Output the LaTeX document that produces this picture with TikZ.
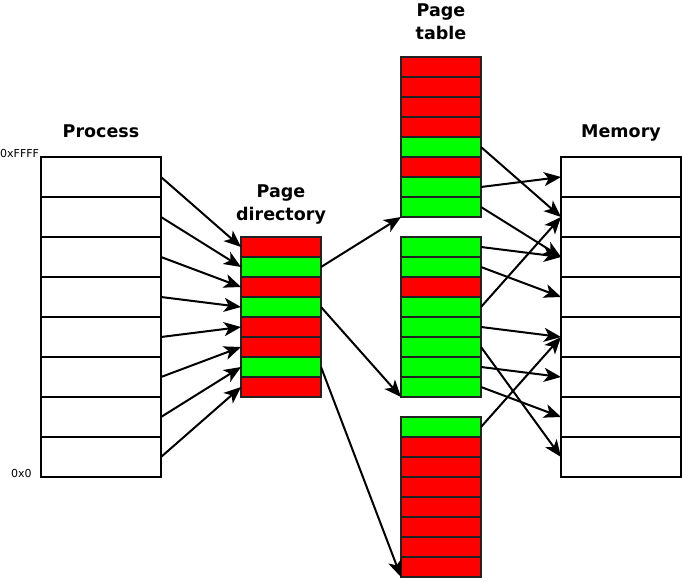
\documentclass[tikz,border=0pt]{standalone}
\usepackage{fontspec}
\setmainfont{DejaVu Sans}
\usetikzlibrary{arrows.meta}
\definecolor{pgred}{HTML}{FF0000}
\definecolor{pggreen}{HTML}{00FF00}
\definecolor{pgedge}{HTML}{222222}
\tikzset{
  bigcell/.style={draw=black, line width=2.2pt, minimum width=120pt, minimum height=40pt, inner sep=0pt, outer sep=0pt, fill=white},
  smallcell/.style={draw=pgedge, line width=2.2pt, minimum width=80pt, minimum height=20pt, inner sep=0pt, outer sep=0pt},
  rc/.style={smallcell, fill=pgred},
  gc/.style={smallcell, fill=pggreen},
  title/.style={font=\bfseries\fontsize{17.5}{23}\selectfont, align=center, inner sep=0pt},
  addr/.style={font=\fontsize{11}{13}\selectfont, inner sep=0pt},
  link/.style={line width=2pt, -{Stealth[length=17pt, width=14pt, inset=4.5pt]}}
}
\begin{document}
\begin{tikzpicture}[x=1pt, y=-1pt]
\useasboundingbox (0,0) rectangle (682,581);
% Process and memory
\foreach \i in {1,...,8} {
  \node[bigcell] (p\i) at (101, {137+40*\i}) {};
  \node[bigcell] (m\i) at (621, {137+40*\i}) {};
}
% Page directory
\foreach \i/\s in {1/rc,2/gc,3/rc,4/gc,5/rc,6/rc,7/gc,8/rc} {
  \node[\s] (d\i) at (281, {227+20*\i}) {};
}
% Page tables
\foreach \i/\s in {1/rc,2/rc,3/rc,4/rc,5/gc,6/rc,7/gc,8/gc} {
  \node[\s] (a\i) at (441, {47+20*\i}) {};
}
\foreach \i/\s in {1/gc,2/gc,3/rc,4/gc,5/gc,6/gc,7/gc,8/gc} {
  \node[\s] (b\i) at (441, {227+20*\i}) {};
}
\foreach \i/\s in {1/gc,2/rc,3/rc,4/rc,5/rc,6/rc,7/rc,8/rc} {
  \node[\s] (c\i) at (441, {407+20*\i}) {};
}
% Titles
\node[title, anchor=base] (tproc) at (101,137) {Process};
\node[title, anchor=base] (tmem) at (621,137) {Memory};
\node[title] (tdir) at (281,205) {Page\\directory};
\node[title] (ttab) at (441,22) {Page\\table};
\node[addr, anchor=base west] (hi) at (0,157) {0xFFFF};
\node[addr, anchor=base west] (lo) at (11,477) {0x0};
% Process -> directory
\foreach \i in {1,...,8} {
  \draw[link] (p\i.east) -- (d\i.west);
}
% Directory -> tables
\draw[link] (d2.east) -- (a8.south west);
\draw[link] (d4.east) -- (b8.south west);
\draw[link] (d7.east) -- (c8.south west);
% Tables -> memory
\draw[link] (a5.east) -- (m2.west);
\draw[link] (a7.east) -- (m1.west);
\draw[link] (a8.east) -- (m3.west);
\draw[link] (b1.east) -- (m3.west);
\draw[link] (b2.east) -- (m4.west);
\draw[link] (b4.east) -- (m2.west);
\draw[link] (b5.east) -- (m5.west);
\draw[link] (b6.east) -- (m8.west);
\draw[link] (b7.east) -- (m6.west);
\draw[link] (b8.east) -- (m7.west);
\draw[link] (c1.east) -- (m5.west);
\end{tikzpicture}
\end{document}
